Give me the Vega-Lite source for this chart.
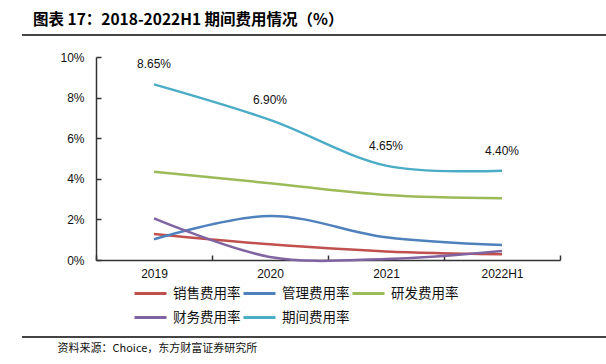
{
  "$schema": "https://vega.github.io/schema/vega-lite/v6.json",
  "autosize": {"type": "none"},
  "width": 584,
  "height": 302,
  "padding": {"left": 22, "top": 35, "right": 0, "bottom": 27},
  "background": "white",
  "config": {
    "view": {"stroke": "#444444", "strokeWidth": 2, "strokeDash": [584, 302]},
    "font": "Liberation Sans"
  },
  "title": {
    "text": "图表 17：2018-2022H1 期间费用情况（%）",
    "anchor": "start",
    "frame": "group",
    "font": "Noto Sans CJK SC",
    "fontSize": 15.5,
    "fontWeight": "bold",
    "color": "#000000",
    "dx": 11,
    "offset": 6
  },
  "layer": [
    {
      "data": {"values": [
        {"year": "2019", "series": "销售费用率", "value": 1.28},
        {"year": "2020", "series": "销售费用率", "value": 0.77},
        {"year": "2021", "series": "销售费用率", "value": 0.42},
        {"year": "2022H1", "series": "销售费用率", "value": 0.28},
        {"year": "2019", "series": "管理费用率", "value": 1.02},
        {"year": "2020", "series": "管理费用率", "value": 2.17},
        {"year": "2021", "series": "管理费用率", "value": 1.12},
        {"year": "2022H1", "series": "管理费用率", "value": 0.74},
        {"year": "2019", "series": "研发费用率", "value": 4.35},
        {"year": "2020", "series": "研发费用率", "value": 3.78},
        {"year": "2021", "series": "研发费用率", "value": 3.2},
        {"year": "2022H1", "series": "研发费用率", "value": 3.04},
        {"year": "2019", "series": "财务费用率", "value": 2.05},
        {"year": "2020", "series": "财务费用率", "value": 0.15},
        {"year": "2021", "series": "财务费用率", "value": 0.05},
        {"year": "2022H1", "series": "财务费用率", "value": 0.44},
        {"year": "2019", "series": "期间费用率", "value": 8.65, "label": "8.65%"},
        {"year": "2020", "series": "期间费用率", "value": 6.9, "label": "6.90%"},
        {"year": "2021", "series": "期间费用率", "value": 4.65, "label": "4.65%"},
        {"year": "2022H1", "series": "期间费用率", "value": 4.4, "label": "4.40%"}
      ]},
      "encoding": {
        "x": {
          "field": "year",
          "type": "nominal",
          "sort": ["2019", "2020", "2021", "2022H1"],
          "scale": {"type": "band", "paddingInner": 0, "paddingOuter": 0, "range": [74, 538]},
          "axis": {
            "title": null,
            "offset": -77,
            "labelAngle": 0,
            "tickBand": "extent",
            "tickSize": -5,
            "labelPadding": 13,
            "domainColor": "#333333",
            "domainWidth": 1.5,
            "tickColor": "#333333",
            "tickWidth": 1.5,
            "labelFont": "Liberation Sans",
            "labelFontSize": 12,
            "labelColor": "#111111"
          }
        },
        "y": {
          "field": "value",
          "type": "quantitative",
          "scale": {"domain": [0, 10], "nice": false, "range": [225, 22]},
          "axis": {
            "title": null,
            "offset": -74,
            "values": [0, 2, 4, 6, 8, 10],
            "labelExpr": "datum.value + '%'",
            "grid": false,
            "tickSize": -5,
            "labelPadding": 17,
            "domainColor": "#333333",
            "domainWidth": 1.5,
            "tickColor": "#333333",
            "tickWidth": 1.5,
            "labelFont": "Liberation Sans",
            "labelFontSize": 12,
            "labelColor": "#111111"
          }
        }
      },
      "layer": [
        {
          "mark": {"type": "line", "interpolate": "cardinal", "strokeWidth": 2.5},
          "encoding": {
            "color": {
              "field": "series",
              "type": "nominal",
              "sort": ["销售费用率", "管理费用率", "研发费用率", "财务费用率", "期间费用率"],
              "scale": {
                "domain": ["销售费用率", "管理费用率", "研发费用率", "财务费用率", "期间费用率"],
                "range": ["#C0504D", "#4F81BD", "#9BBB59", "#8064A2", "#4BACC6"]
              },
              "legend": {
                "title": null,
                "orient": "none",
                "legendX": 111,
                "legendY": 241,
                "direction": "horizontal",
                "columns": 3,
                "symbolType": "stroke",
                "symbolSize": 1024,
                "symbolStrokeWidth": 3,
                "labelOffset": 5,
                "columnPadding": -4,
                "rowPadding": -3,
                "labelFont": "Noto Sans CJK SC",
                "labelFontSize": 13.5,
                "labelColor": "#111111"
              }
            }
          }
        },
        {
          "transform": [{"filter": "datum.series === '期间费用率'"}],
          "mark": {"type": "text", "dy": -20, "fontSize": 12, "font": "Liberation Sans", "color": "#111111"},
          "encoding": {"text": {"field": "label"}}
        }
      ]
    },
    {
      "data": {"values": [{"edge": 0}, {"edge": 1}]},
      "mark": {"type": "rule", "color": "#444444", "strokeWidth": 2},
      "encoding": {
        "y": {"field": "edge", "type": "quantitative", "axis": null, "scale": {"domain": [0, 1], "nice": false}}
      }
    },
    {
      "data": {"values": [{"edge": 0}, {"edge": 1}]},
      "mark": {"type": "text", "text": ""},
      "encoding": {
        "x": {
          "field": "edge",
          "type": "quantitative",
          "scale": {"domain": [0, 1], "nice": false},
          "axis": {
            "orient": "bottom",
            "title": "资料来源：Choice，东方财富证券研究所",
            "titleFont": "Noto Sans CJK SC",
            "titleFontSize": 11,
            "titleFontWeight": "normal",
            "titleColor": "#111111",
            "titleAnchor": "start",
            "titleAlign": "left",
            "titleX": 35,
            "titlePadding": 5,
            "labels": false,
            "ticks": false,
            "grid": false,
            "domain": false
          }
        }
      }
    }
  ],
  "resolve": {
    "scale": {"y": "independent", "x": "independent"},
    "axis": {"y": "independent", "x": "independent"}
  }
}
